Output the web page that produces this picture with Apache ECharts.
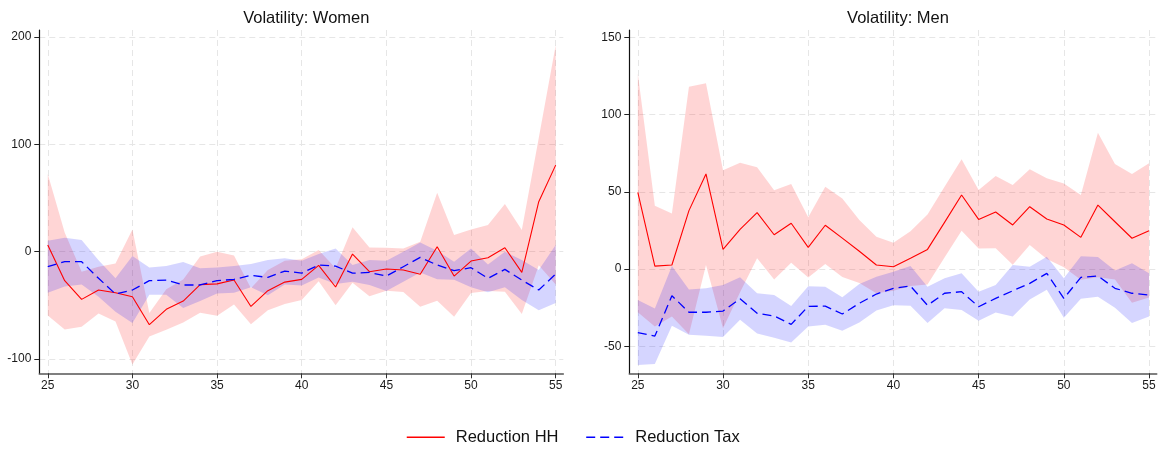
<!DOCTYPE html>
<html>
<head>
<meta charset="utf-8">
<script src="https://cdn.jsdelivr.net/npm/echarts@6/dist/echarts.min.js"></script>
<style>
  html, body { margin: 0; padding: 0; background: #ffffff; }
  #chart { width: 1164px; height: 451px; }
</style>
</head>
<body>
<div id="chart"></div>
<script>
// Age on the horizontal axis
const ages = [25, 26, 27, 28, 29, 30, 31, 32, 33, 34, 35, 36, 37, 38, 39, 40,
              41, 42, 43, 44, 45, 46, 47, 48, 49, 50, 51, 52, 53, 54, 55];

// Women: reduction through the household
const womenHH     = [6.2, -27, -44.4, -35.7, -38.2, -41.9, -68, -53.7, -46, -30.7, -30, -26.4, -51, -36.3, -28.3, -25.8,
                     -12.7, -32.9, -2.2, -18.6, -16.1, -17, -21, 4.7, -22.7, -8.7, -5.6, 3.7, -19.2, 46.6, 80.7];
const womenHHLow  = [-59.5, -72.5, -70, -57.5, -65, -105, -79, -72.8, -66, -56.8, -59.6, -49.2, -67.5, -54.5, -48.7, -45,
                     -27.5, -50, -29, -41.5, -36.3, -37.5, -51.2, -45.8, -60.7, -38.5, -36.5, -37.2, -58, -12.5, -30.5];
const womenHHHigh = [72.4, 18, -18.6, -14, -11, 20.8, -57, -35, -26, -4.5, 0, -3.5, -34, -17, -8.4, -7.1,
                     1.6, -15.5, 22.7, 4, 3.7, 3.1, 9.3, 55, 15.5, 20.8, 24.8, 44.4, 20.2, 106, 192.5];

// Women: reduction through taxes
const womenTax     = [-14, -9.3, -9.3, -24.8, -39.4, -35.7, -27, -26.4, -31, -31, -27, -25.8, -22, -24, -18, -20,
                      -12.4, -13.4, -20, -19.3, -22.7, -14, -5.3, -12.4, -17.7, -14.9, -24.8, -16.5, -26.4, -35.7, -20.8];
const womenTaxLow  = [-38.2, -32.5, -30.5, -42, -56, -66.5, -40, -40, -52.5, -46, -39, -38.2, -33, -40.5, -30.5, -31.5,
                      -24, -30, -28, -31, -36.5, -28, -19.3, -25.7, -26.1, -33, -37.8, -33, -45, -54.5, -47.8];
const womenTaxHigh = [10.2, 13, 10.9, -8, -24.8, -4, -14.6, -13.4, -9.5, -15.3, -14.6, -13.4, -11.5, -7.8, -6.2, -8.4,
                      -2.2, 3.1, -12.4, -7.8, -8.4, 0, 8.7, 0.9, -9.3, 3, -11.8, 0, -7.8, -17, 6.2];

// Men: reduction through the household
const menHH     = [49.6, 1.9, 2.6, 37.8, 61.5, 12.7, 25.7, 36.5, 22.2, 29.6, 14, 28.3, 20, 11.5, 2.6, 1.5,
                   6.9, 12.7, 30.2, 47.9, 32.1, 36.9, 28.5, 40.3, 32.4, 28.5, 20.5, 41.4, 30.6, 19.9, 24.8];
const menHHLow  = [-28, -37.2, -30.8, -42.2, 2.6, -38.4, -15, 7, -6.8, 4, -5.5, 3.2, -5.2, -9, -15.7, -14.1,
                   -11, -10, 7.5, 24.8, 13.2, 13.5, 2.7, 15.5, 6.5, 1.2, -7, -5.4, -6.8, -21.8, -18.5];
const menHHHigh = [126.6, 41, 36, 118, 120.2, 64, 68.8, 65.8, 51, 55, 33.5, 53.3, 45.7, 31.7, 20.9, 17,
                   24.5, 35.3, 53.3, 71, 51.2, 60.2, 54.4, 64.6, 58.7, 55.4, 47.9, 88.2, 68, 61.5, 68.4];

// Men: reduction through taxes
const menTax     = [-41.2, -43.4, -17.3, -28, -28, -27.2, -19.2, -28.7, -30.4, -35.8, -24.2, -24, -29.1, -22.2, -16.2, -12.5,
                    -11, -23.5, -15.7, -14.7, -24.4, -19, -14.1, -9.3, -2.8, -19, -5.4, -4.5, -12.5, -15.7, -16.8];
const menTaxLow  = [-62.2, -61.5, -36.8, -42.5, -43.2, -44, -32.8, -41.7, -44.5, -47.6, -37.2, -36, -39.9, -34.7, -26.8, -23.5,
                    -23.8, -35, -25.4, -26.6, -33.5, -28.2, -30.8, -19.8, -13.4, -31.5, -19.2, -18, -25, -35, -30.8];
const menTaxHigh = [-20, -25.5, 1.9, -13.2, -12.5, -10.4, -5.4, -15.7, -16.8, -24, -11.2, -11.4, -18.3, -9.7, -5, -1.7,
                    1.9, -11.4, -6, -2.8, -14.7, -10.4, 2.6, 1.5, 8, -6, 8.2, 7.8, -1, 3.7, -2.8];

// Tick positions
const xTicks = [25, 30, 35, 40, 45, 50, 55];
const womenYTicks = [-100, 0, 100, 200];
const menYTicks = [-50, 0, 50, 100, 150];

const panelTitles = ['Volatility: Women', 'Volatility: Men'];
const seriesNames = ['Reduction HH', 'Reduction Tax'];

const RED = '#ff0000';
const BLUE = '#0000ff';
const RED_BAND = 'rgba(255, 0, 0, 0.165)';
const BLUE_BAND = 'rgba(0, 0, 255, 0.165)';
const FONT = '"Liberation Sans", Arial, Helvetica, sans-serif';
const GRID_LINE = { show: true, lineStyle: { color: '#e6e6e6', width: 1, type: [6, 4] } };

// Confidence band: one polygon along the upper bounds and back along the lower bounds
function band(idx, lo, hi, fill) {
  return {
    type: 'custom',
    xAxisIndex: idx,
    yAxisIndex: idx,
    silent: true,
    z: 1,
    data: ages.map((a, i) => [a, lo[i], hi[i]]),
    encode: { x: 0, y: [1, 2] },
    renderItem(params, api) {
      if (params.dataIndex !== 0) return null;
      const upper = ages.map((a, i) => api.coord([a, hi[i]]));
      const lower = ages.map((a, i) => api.coord([a, lo[i]])).reverse();
      return {
        type: 'polygon',
        shape: { points: upper.concat(lower) },
        style: { fill: fill }
      };
    }
  };
}

function line(idx, name, values, color, dashed) {
  return {
    name: name,
    type: 'line',
    xAxisIndex: idx,
    yAxisIndex: idx,
    z: 3,
    symbol: 'none',
    showSymbol: false,
    silent: true,
    data: ages.map((a, i) => [a, values[i]]),
    lineStyle: { color: color, width: dashed ? 1.3 : 1.1, type: dashed ? [9, 5] : 'solid' },
    itemStyle: { color: color }
  };
}

function xAxis(idx) {
  return {
    type: 'value',
    gridIndex: idx,
    min: 24.5,
    max: 55.45,
    axisLine: { show: true, onZero: false, lineStyle: { color: '#555', width: 1.6 } },
    axisTick: { show: true, length: 5, customValues: xTicks, lineStyle: { color: '#333', width: 1 } },
    axisLabel: { customValues: xTicks, margin: 6, fontSize: 12, color: '#1a1a1a', fontFamily: FONT },
    splitLine: GRID_LINE
  };
}

function yAxis(idx, min, max, ticks) {
  return {
    type: 'value',
    gridIndex: idx,
    min: min,
    max: max,
    axisLine: { show: true, onZero: false, lineStyle: { color: '#111', width: 1.2 } },
    axisTick: { show: true, length: 5, customValues: ticks, lineStyle: { color: '#222', width: 1 } },
    axisLabel: { customValues: ticks, margin: 8, fontSize: 12, color: '#1a1a1a', fontFamily: FONT },
    splitLine: GRID_LINE
  };
}

const chart = echarts.init(document.getElementById('chart'), null, { renderer: 'canvas' });

chart.setOption({
  animation: false,
  backgroundColor: '#ffffff',
  title: [
    { text: panelTitles[0], left: 301.3, top: 5, textAlign: 'center',
      textStyle: { fontSize: 16.5, fontWeight: 'normal', color: '#111', fontFamily: FONT } },
    { text: panelTitles[1], left: 893, top: 5, textAlign: 'center',
      textStyle: { fontSize: 16.5, fontWeight: 'normal', color: '#111', fontFamily: FONT } }
  ],
  legend: {
    data: seriesNames,
    left: 406,
    top: 428.7,
    padding: 0,
    itemWidth: 38,
    itemHeight: 14,
    itemGap: 27,
    selectedMode: false,
    itemStyle: { opacity: 0 },
    lineStyle: { width: 1.5 },
    textStyle: { fontSize: 16.5, color: '#111', fontFamily: FONT, padding: [0, 0, 0, 6] }
  },
  grid: [
    { left: 39.3, right: 600.7, top: 30, bottom: 77.7 },
    { left: 629.3, right: 7.3, top: 30, bottom: 77.7 }
  ],
  xAxis: [xAxis(0), xAxis(1)],
  yAxis: [
    yAxis(0, -113.3, 206.6, womenYTicks),
    yAxis(1, -67.5, 154.7, menYTicks)
  ],
  series: [
    band(0, womenHHLow, womenHHHigh, RED_BAND),
    band(0, womenTaxLow, womenTaxHigh, BLUE_BAND),
    line(0, seriesNames[0], womenHH, RED, false),
    line(0, seriesNames[1], womenTax, BLUE, true),
    band(1, menHHLow, menHHHigh, RED_BAND),
    band(1, menTaxLow, menTaxHigh, BLUE_BAND),
    line(1, seriesNames[0], menHH, RED, false),
    line(1, seriesNames[1], menTax, BLUE, true)
  ]
});
</script>
</body>
</html>
